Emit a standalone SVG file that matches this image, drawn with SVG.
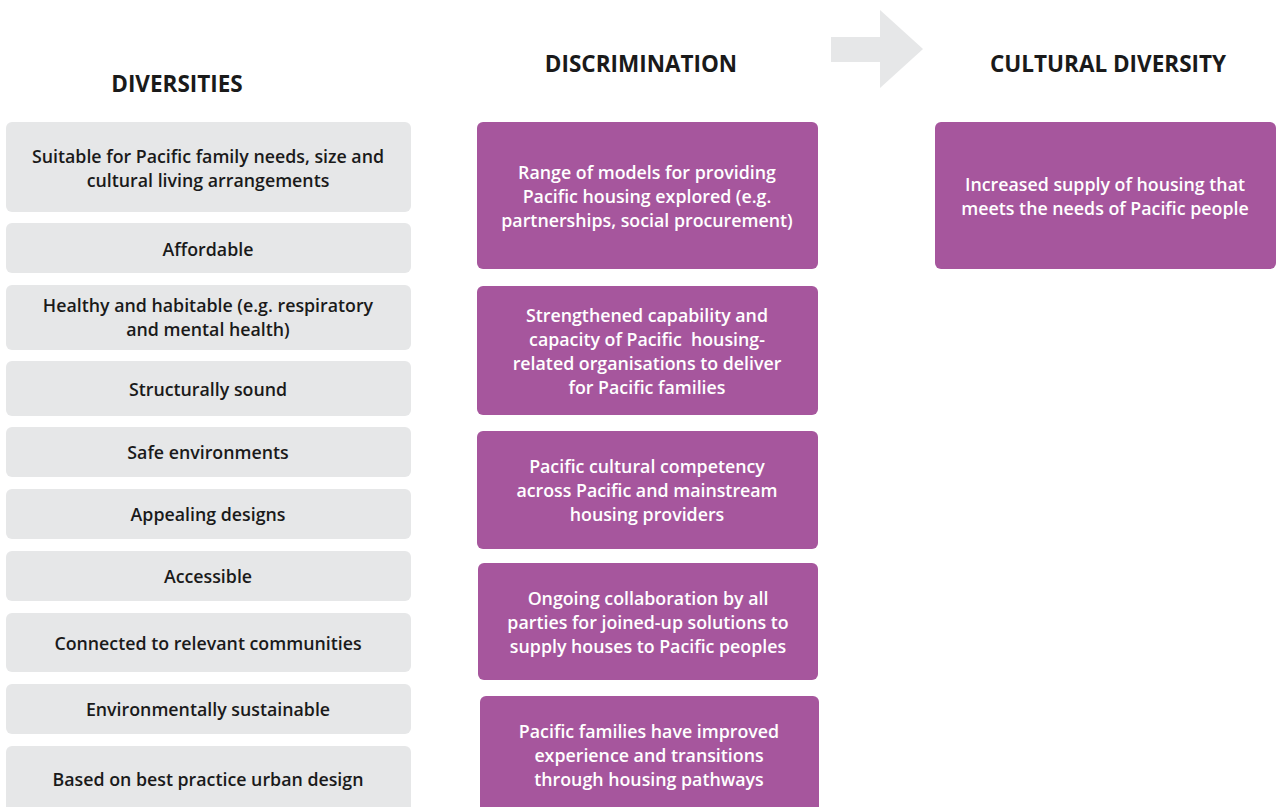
<svg xmlns="http://www.w3.org/2000/svg" width="1277" height="807" viewBox="0 0 1277 807">
<style>
.g{fill:#e6e7e8}
.p{fill:#a6569d}
.h{font-family:"Open Sans","Noto Sans",sans-serif;font-weight:700;font-size:22.5px;fill:#1a1a1a;text-anchor:middle}
.t{font-family:"Open Sans","Noto Sans",sans-serif;font-weight:600;font-size:17.8px;fill:#1a1a1a;text-anchor:middle;dominant-baseline:central}
.w{font-family:"Open Sans","Noto Sans",sans-serif;font-weight:600;font-size:17.8px;fill:#ffffff;text-anchor:middle;dominant-baseline:central}
</style>
<rect width="1277" height="807" fill="#ffffff"/>
<g id="headers">
<text class="h" x="177" y="92">DIVERSITIES</text>
<text class="h" x="641" y="72">DISCRIMINATION</text>
<text class="h" x="1108" y="72">CULTURAL DIVERSITY</text>
</g>
<g id="arrow">
<polygon class="g" points="831,37 880,37 880,10 923,49 880,88 880,62 831,62"/>
</g>
<g id="d1"><rect class="g" x="6" y="122" width="405" height="90" rx="6"/><text class="t" x="208" y="156">Suitable for Pacific family needs, size and</text><text class="t" x="208" y="180">cultural living arrangements</text></g>
<g id="d2"><rect class="g" x="6" y="223" width="405" height="50" rx="6"/><text class="t" x="208" y="249">Affordable</text></g>
<g id="d3"><rect class="g" x="6" y="285" width="405" height="65" rx="6"/><text class="t" x="208" y="305">Healthy and habitable (e.g. respiratory</text><text class="t" x="208" y="329">and mental health)</text></g>
<g id="d4"><rect class="g" x="6" y="361" width="405" height="55" rx="6"/><text class="t" x="208" y="389">Structurally sound</text></g>
<g id="d5"><rect class="g" x="6" y="427" width="405" height="50" rx="6"/><text class="t" x="208" y="452">Safe environments</text></g>
<g id="d6"><rect class="g" x="6" y="489" width="405" height="50" rx="6"/><text class="t" x="208" y="514">Appealing designs</text></g>
<g id="d7"><rect class="g" x="6" y="551" width="405" height="50" rx="6"/><text class="t" x="208" y="576">Accessible</text></g>
<g id="d8"><rect class="g" x="6" y="613" width="405" height="59" rx="6"/><text class="t" x="208" y="643">Connected to relevant communities</text></g>
<g id="d9"><rect class="g" x="6" y="684" width="405" height="50" rx="6"/><text class="t" x="208" y="709">Environmentally sustainable</text></g>
<g id="d10"><rect class="g" x="6" y="746" width="405" height="70" rx="6"/><text class="t" x="208" y="779">Based on best practice urban design</text></g>
<g id="m1"><rect class="p" x="477" y="122" width="341" height="147" rx="6"/><text class="w" x="647" y="172">Range of models for providing</text><text class="w" x="647" y="196">Pacific housing explored (e.g.</text><text class="w" x="647" y="220">partnerships, social procurement)</text></g>
<g id="m2"><rect class="p" x="477" y="286" width="341" height="129" rx="6"/><text class="w" x="647" y="315">Strengthened capability and</text><text class="w" x="647" y="339" style="white-space:pre">capacity of Pacific  housing-</text><text class="w" x="647" y="363">related organisations to deliver</text><text class="w" x="647" y="387">for Pacific families</text></g>
<g id="m3"><rect class="p" x="477" y="431" width="341" height="118" rx="6"/><text class="w" x="647" y="466">Pacific cultural competency</text><text class="w" x="647" y="490">across Pacific and mainstream</text><text class="w" x="647" y="514">housing providers</text></g>
<g id="m4"><rect class="p" x="478" y="563" width="340" height="117" rx="6"/><text class="w" x="648" y="598">Ongoing collaboration by all</text><text class="w" x="648" y="622">parties for joined-up solutions to</text><text class="w" x="648" y="646">supply houses to Pacific peoples</text></g>
<g id="m5"><rect class="p" x="480" y="696" width="339" height="120" rx="6"/><text class="w" x="649" y="731">Pacific families have improved</text><text class="w" x="649" y="755">experience and transitions</text><text class="w" x="649" y="779">through housing pathways</text></g>
<g id="r1"><rect class="p" x="935" y="122" width="341" height="147" rx="6"/><text class="w" x="1105" y="184">Increased supply of housing that</text><text class="w" x="1105" y="208">meets the needs of Pacific people</text></g>
<g id="connectors"></g>
</svg>
